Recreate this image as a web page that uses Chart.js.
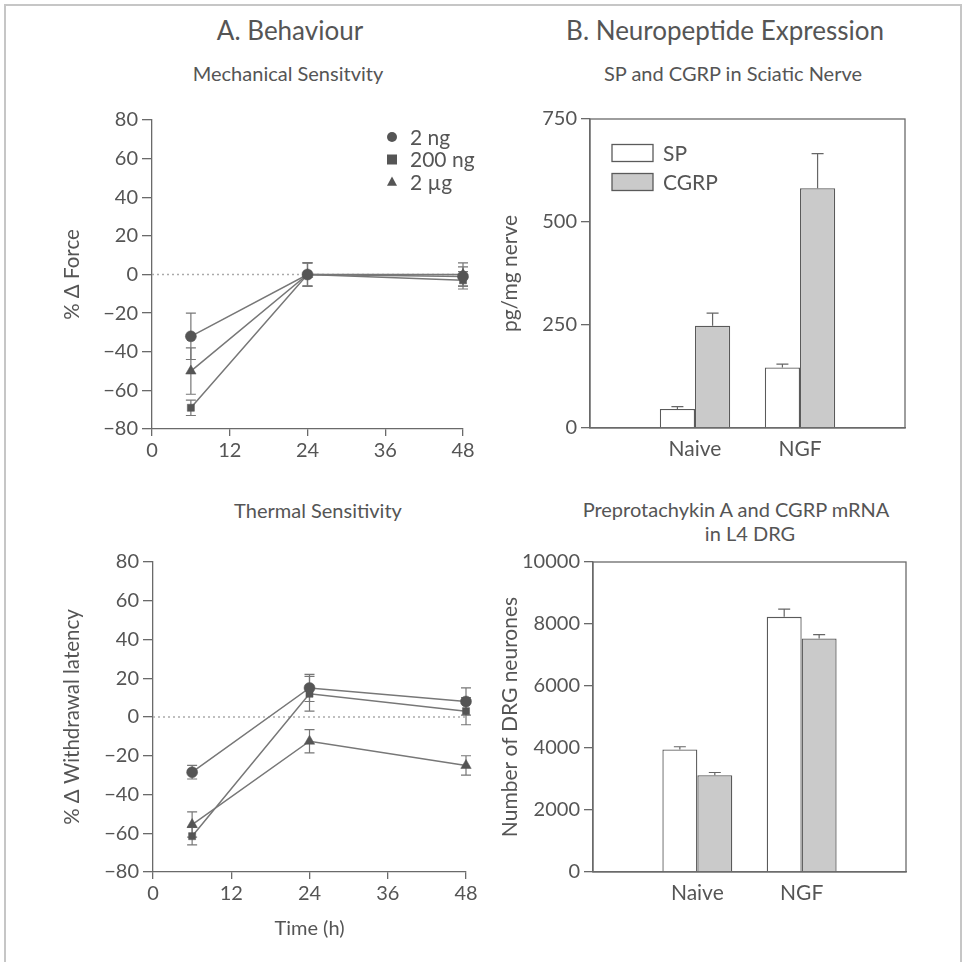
<!DOCTYPE html>
<html>
<head>
<meta charset="utf-8">
<script src="https://cdn.jsdelivr.net/npm/chart.js@4.4.1/dist/chart.umd.min.js"></script>
<style>
  html, body { margin: 0; padding: 0; background: #fff; }
  body {
    width: 964px; height: 962px; position: relative; overflow: hidden;
    font-family: Lato, "Open Sans", sans-serif; color: #555;
  }
  .frame {
    position: absolute; left: 4px; top: 4px; width: 958px; height: 990px;
    border: 2px solid #c6c6c6; box-sizing: border-box;
  }
  .label {
    position: absolute; transform: translate(-50%, -50%);
    white-space: nowrap; line-height: 1;
  }
  .big { font-size: 26px; }
  .sub { font-size: 20px; }
  canvas { position: absolute; }
</style>
</head>
<body>
<div class="frame"></div>

<div class="label big" style="left:290px; top:30px;">A. Behaviour</div>
<div class="label big" style="left:725px; top:30px;">B. Neuropeptide Expression</div>
<div class="label sub" style="left:288px; top:73px;">Mechanical Sensitvity</div>
<div class="label sub" style="left:733px; top:73px;">SP and CGRP in Sciatic Nerve</div>
<div class="label sub" style="left:318px; top:510px;">Thermal Sensitivity</div>
<div class="label sub" style="left:736px; top:509px;">Preprotachykin A and CGRP mRNA</div>
<div class="label sub" style="left:750px; top:533px;">in L4 DRG</div>

<canvas id="mech" width="482" height="380" style="left:0; top:100px;"></canvas>
<canvas id="thermal" width="482" height="422" style="left:0; top:540px;"></canvas>
<canvas id="sciatic" width="482" height="380" style="left:482px; top:100px;"></canvas>
<canvas id="drg" width="482" height="422" style="left:482px; top:540px;"></canvas>

<script>
// time course (hours after injection)
const timePoints = [6, 24, 48];
const doseLabels = ["2 ng", "200 ng", "2 µg"];

// mechanical sensitivity, % change in force
const mech2ng = [-32, 0, -1];
const mech2ngErr = [12, 6, 5];
const mech200ng = [-69, 0, -3];
const mech200ngErr = [4, 6, 4.5];
const mech2ug = [-50, 0, 0];
const mech2ugErr = [12, 6, 6];

// thermal sensitivity, % change in withdrawal latency
const therm2ng = [-28.5, 15, 8];
const therm2ngErr = [3.5, 7, 7];
const therm200ng = [-61.5, 12, 3];
const therm200ngErr = [4.5, 9, 7];
const therm2ug = [-55.5, -12.5, -25];
const therm2ugErr = [6.5, 6, 5];

// neuropeptide groups
const groups = ["Naive", "NGF"];
const peptideLabels = ["SP", "CGRP"];

// SP and CGRP content of sciatic nerve (pg/mg)
const sciaticSp = [46, 147];
const sciaticSpErr = [6, 8];
const sciaticCgrp = [248, 582];
const sciaticCgrpErr = [31, 84];

// labelled L4 DRG neurones
const drgSp = [3950, 8230];
const drgSpErr = [90, 250];
const drgCgrp = [3120, 7530];
const drgCgrpErr = [90, 130];

const textColor = "#555";
const axisColor = "#6a6a6a";
const fontFamily = "Lato, 'Open Sans', sans-serif";

const minusSign = (value) => String(value).replace("-", "\u2212");
const plainNumber = (value) => String(value);

// whiskers: both directions for points, upward only for bars
const errorBars = {
  id: "errorBars",
  beforeDatasetsDraw(chart, args, opts) {
    const { ctx } = chart;
    chart.data.datasets.forEach((ds, i) => {
      if (!ds.errors) return;
      const meta = chart.getDatasetMeta(i);
      const yScale = chart.scales[meta.yAxisID];
      ctx.save();
      ctx.strokeStyle = opts.color;
      ctx.lineWidth = opts.width;
      meta.data.forEach((el, j) => {
        const raw = ds.data[j];
        const err = ds.errors[j];
        if (raw == null || err == null) return;
        const value = typeof raw === "object" ? raw.y : raw;
        const x = el.x;
        const top = yScale.getPixelForValue(value + err);
        const bottom = opts.upOnly ? yScale.getPixelForValue(value) : yScale.getPixelForValue(value - err);
        ctx.beginPath();
        ctx.moveTo(x, bottom);
        ctx.lineTo(x, top);
        ctx.moveTo(x - opts.cap, top);
        ctx.lineTo(x + opts.cap, top);
        if (!opts.upOnly) {
          ctx.moveTo(x - opts.cap, bottom);
          ctx.lineTo(x + opts.cap, bottom);
        }
        ctx.stroke();
      });
      ctx.restore();
    });
  },
};

function markerPath(ctx, style, x, y, r) {
  ctx.beginPath();
  if (style === "rect") {
    ctx.rect(x - r, y - r, 2 * r, 2 * r);
  } else if (style === "triangle") {
    ctx.moveTo(x, y - r * 1.1);
    ctx.lineTo(x + r, y + r * 0.75);
    ctx.lineTo(x - r, y + r * 0.75);
    ctx.closePath();
  } else {
    ctx.arc(x, y, r, 0, Math.PI * 2);
  }
}

// legend drawn inside the plot area
const insetLegend = {
  id: "insetLegend",
  afterDraw(chart, args, opts) {
    if (!opts.show) return;
    const { ctx, chartArea } = chart;
    const datasets = chart.data.datasets.filter((ds) => ds.label);
    ctx.save();
    ctx.font = opts.font;
    ctx.textBaseline = "middle";
    datasets.forEach((ds, k) => {
      const x = chartArea.left + opts.left;
      const y = chartArea.top + opts.top + k * opts.rowHeight;
      if (opts.kind === "box") {
        ctx.fillStyle = ds.backgroundColor;
        ctx.strokeStyle = ds.borderColor;
        ctx.lineWidth = 1.3;
        ctx.fillRect(x, y - opts.boxHeight / 2, opts.boxWidth, opts.boxHeight);
        ctx.strokeRect(x, y - opts.boxHeight / 2, opts.boxWidth, opts.boxHeight);
      } else {
        ctx.fillStyle = ds.pointBackgroundColor;
        markerPath(ctx, ds.pointStyle, x, y, opts.radius);
        ctx.fill();
      }
      ctx.fillStyle = textColor;
      ctx.fillText(ds.label, chartArea.left + opts.textLeft, y + 1);
    });
    ctx.restore();
  },
};

// closes the bar panels into a box
const plotBox = {
  id: "plotBox",
  afterDraw(chart, args, opts) {
    if (!opts.show) return;
    const { ctx, chartArea } = chart;
    ctx.save();
    ctx.strokeStyle = axisColor;
    ctx.lineWidth = 1.3;
    ctx.strokeRect(chartArea.left, chartArea.top, chartArea.right - chartArea.left, chartArea.bottom - chartArea.top);
    ctx.restore();
  },
};

Chart.register(errorBars, insetLegend, plotBox);
Chart.defaults.font.family = fontFamily;
Chart.defaults.color = textColor;

const markerStyles = ["circle", "rect", "triangle"];
const markerRadius = [5.5, 5, 6];

function doseDataset(i, values, errors) {
  return {
    label: doseLabels[i],
    data: timePoints.map((t, j) => ({ x: t, y: values[j] })),
    errors,
    borderColor: "#777",
    borderWidth: 1.5,
    pointStyle: markerStyles[i],
    pointRadius: markerRadius[i],
    pointBackgroundColor: "#555",
    pointBorderColor: "#555",
    pointBorderWidth: 0.5,
    clip: false,
  };
}

function zeroLine() {
  return {
    data: [{ x: 0, y: 0 }, { x: 48, y: 0 }],
    borderColor: "#aaa",
    borderWidth: 1.3,
    borderDash: [2, 3],
    pointRadius: 0,
  };
}

function timeCourseChart(id, series, yTitle, xTitle, padding, yWidth, xHeight, legend) {
  return new Chart(document.getElementById(id), {
    type: "line",
    data: {
      datasets: [
        doseDataset(0, series[0][0], series[0][1]),
        doseDataset(1, series[1][0], series[1][1]),
        doseDataset(2, series[2][0], series[2][1]),
        zeroLine(),
      ],
    },
    options: {
      responsive: false,
      animation: false,
      devicePixelRatio: 1,
      events: [],
      layout: { padding },
      plugins: {
        legend: { display: false },
        tooltip: { enabled: false },
        errorBars: { color: "#777", width: 1.2, cap: 5, upOnly: false },
        insetLegend: legend,
        plotBox: { show: false },
      },
      scales: {
        x: {
          type: "linear",
          min: 0,
          max: 48,
          ticks: { stepSize: 12, font: { size: 20 }, padding: 3, color: textColor },
          grid: { drawOnChartArea: false, tickLength: 7, color: axisColor, lineWidth: 1.3 },
          border: { color: axisColor, width: 1.3 },
          title: { display: !!xTitle, text: xTitle, font: { size: 20 }, color: textColor, padding: 0 },
          afterFit: (scale) => { scale.height = xHeight; },
        },
        y: {
          min: -80,
          max: 80,
          ticks: { stepSize: 20, font: { size: 20 }, padding: 4, color: textColor, callback: minusSign },
          grid: { drawOnChartArea: false, tickLength: 10, color: axisColor, lineWidth: 1.3 },
          border: { color: axisColor, width: 1.3 },
          title: { display: true, text: yTitle, font: { size: 20.5 }, color: textColor, padding: 0 },
          afterFit: (scale) => { scale.width = yWidth; },
        },
      },
    },
  });
}

function peptideChart(id, sp, spErr, cgrp, cgrpErr, yMax, yStep, yTitle, padding, yWidth, xHeight, legend) {
  // empty slots either side keep the two groups in the middle of the box
  const slots = ["", ...groups, ""];
  const padded = (arr) => [null, ...arr, null];
  return new Chart(document.getElementById(id), {
    type: "bar",
    data: {
      labels: slots,
      datasets: [
        {
          label: peptideLabels[0],
          data: padded(sp),
          errors: padded(spErr),
          backgroundColor: "#ffffff",
          borderColor: "#5a5a5a",
          borderWidth: 1.3,
          categoryPercentage: 0.67,
          barPercentage: 1,
        },
        {
          label: peptideLabels[1],
          data: padded(cgrp),
          errors: padded(cgrpErr),
          backgroundColor: "#cacaca",
          borderColor: "#5a5a5a",
          borderWidth: 1.3,
          categoryPercentage: 0.67,
          barPercentage: 1,
        },
      ],
    },
    options: {
      responsive: false,
      animation: false,
      devicePixelRatio: 1,
      events: [],
      layout: { padding },
      plugins: {
        legend: { display: false },
        tooltip: { enabled: false },
        errorBars: { color: "#666", width: 1.2, cap: 6, upOnly: true },
        insetLegend: legend,
        plotBox: { show: true },
      },
      scales: {
        x: {
          type: "category",
          offset: false,
          ticks: { font: { size: 21 }, padding: 9, color: textColor },
          grid: { display: false, drawTicks: false },
          border: { color: axisColor, width: 1.3 },
          afterFit: (scale) => { scale.height = xHeight; },
        },
        y: {
          min: 0,
          max: yMax,
          ticks: { stepSize: yStep, font: { size: 20 }, padding: 4, color: textColor, callback: plainNumber },
          grid: { drawOnChartArea: false, tickLength: 9, color: axisColor, lineWidth: 1.3 },
          border: { color: axisColor, width: 1.3 },
          title: { display: true, text: yTitle, font: { size: 21 }, color: textColor, padding: 0 },
          afterFit: (scale) => { scale.width = yWidth; },
        },
      },
    },
  });
}

timeCourseChart(
  "mech",
  [[mech2ng, mech2ngErr], [mech200ng, mech200ngErr], [mech2ug, mech2ugErr]],
  "% \u0394 Force",
  "",
  { left: 60, top: 20, right: 19, bottom: 0 },
  92,
  51,
  { show: true, kind: "point", left: 240, top: 17, rowHeight: 22.5, radius: 5, textLeft: 258, font: `21px ${fontFamily}` },
);

timeCourseChart(
  "thermal",
  [[therm2ng, therm2ngErr], [therm200ng, therm200ngErr], [therm2ug, therm2ugErr]],
  "% \u0394 Withdrawal latency",
  "Time (h)",
  { left: 60, top: 22, right: 16, bottom: 21 },
  93,
  69,
  { show: false },
);

peptideChart(
  "sciatic", sciaticSp, sciaticSpErr, sciaticCgrp, sciaticCgrpErr, 750, 250, "pg/mg nerve",
  { left: 16, top: 19, right: 59, bottom: 0 },
  92,
  52,
  { show: true, kind: "box", left: 22, top: 34, rowHeight: 29, boxWidth: 41, boxHeight: 17, textLeft: 73, font: `21px ${fontFamily}` },
);

peptideChart(
  "drg", drgSp, drgSpErr, drgCgrp, drgCgrpErr, 10000, 2000, "Number of DRG neurones",
  { left: 16, top: 22, right: 58, bottom: 0 },
  95,
  90,
  { show: false },
);
</script>
</body>
</html>
